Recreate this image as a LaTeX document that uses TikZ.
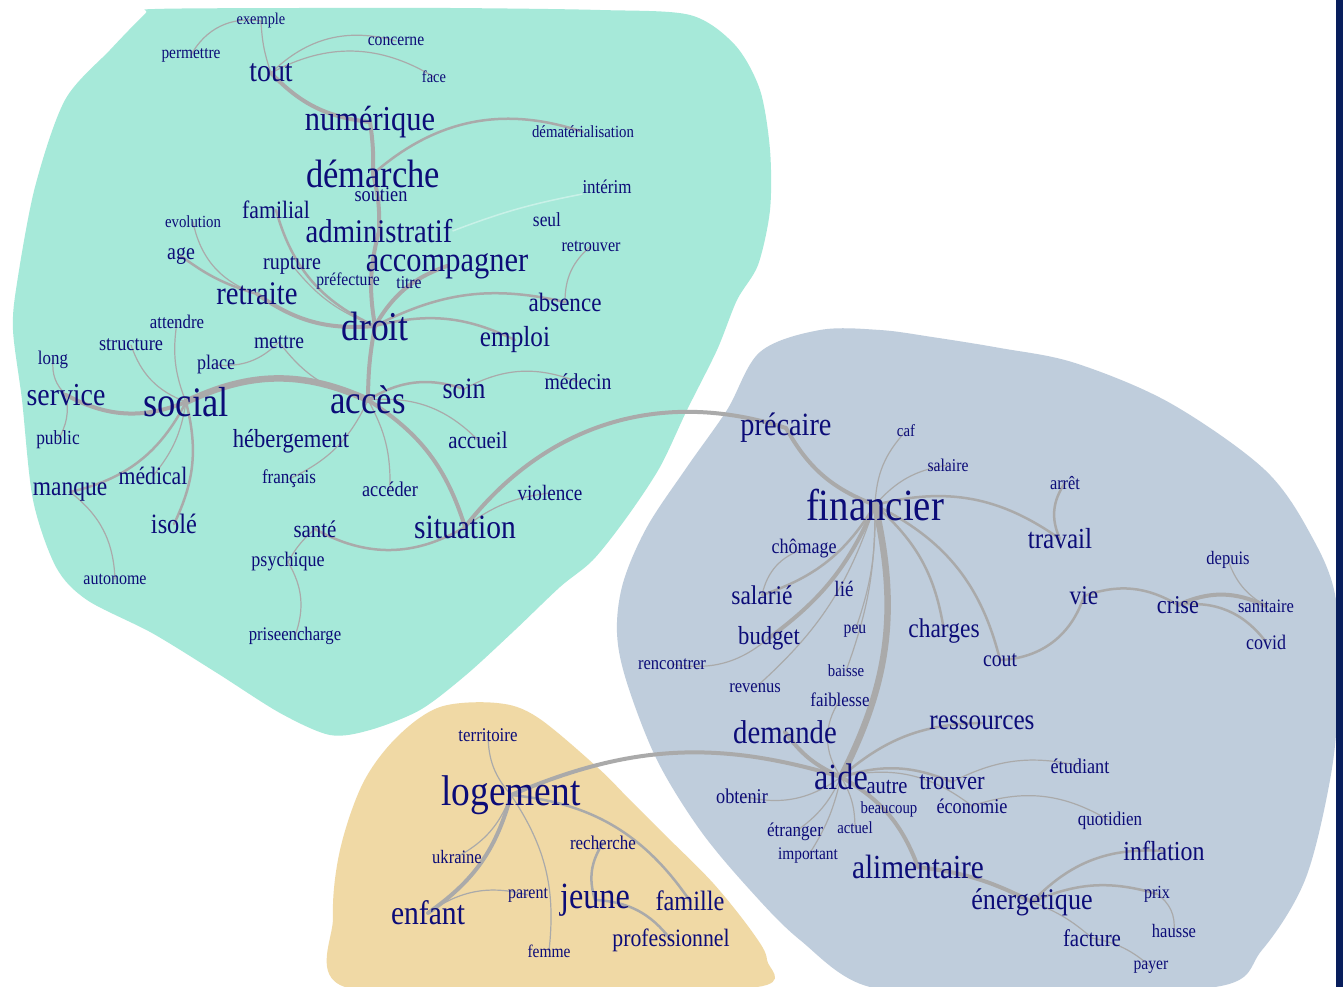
\documentclass[tikz,border=0pt]{standalone}
\usepackage{fontspec}
\setmainfont{Liberation Serif}[FakeStretch=0.87]
\pgfdeclarelayer{blobs}
\pgfdeclarelayer{edges}
\pgfsetlayers{blobs,edges,main}
\definecolor{txt}{RGB}{12,12,120}
\definecolor{edgec}{RGB}{170,170,170}
\definecolor{tealc}{RGB}{166,233,217}
\definecolor{bluec}{RGB}{191,205,220}
\definecolor{orangec}{RGB}{240,217,165}
\definecolor{barc}{RGB}{8,30,92}
\tikzset{
  wd/.style={font=\fontsize{#1}{#1}\selectfont, text=txt, inner sep=0pt},
  ea/.style={draw=edgec, line width=1.2pt, line cap=round},
  eb/.style={draw=edgec, line width=2.5pt, line cap=round},
  ec/.style={draw=edgec, line width=4pt, line cap=round},
  ed/.style={draw=edgec, line width=6.5pt, line cap=round},
}
\begin{document}
\begin{tikzpicture}[x=1pt,y=1pt]
\useasboundingbox (0,0) rectangle (1343,-987);
\begin{pgfonlayer}{blobs}
\fill[white] (0,0) rectangle (1343,-987);
\fill[tealc] plot[smooth cycle, tension=0.5] coordinates {
(155,-9) (300,-8) (450,-8) (600,-10) (690,-15) (735,-45) (760,-90) (770,-150) (770,-210) (758,-265) (737,-300) (717,-350) (687,-410) (660,-467) (627,-517) (593,-560) (560,-587) (515,-630) (466,-675) (420,-710) (370,-730) (330,-735) (280,-713) (217,-673) (152,-633) (87,-600) (56,-567) (33,-500) (22,-400) (13,-330) (17,-283) (35,-187) (65,-100) (110,-50) (145,-14)};
\fill[bluec] plot[smooth cycle, tension=0.55] coordinates {
(820,-330) (880,-330) (932,-337) (1000,-348) (1075,-363) (1170,-403) (1265,-470) (1312,-537) (1336,-600) (1338,-700) (1330,-780) (1305,-880) (1262,-950) (1215,-987) (1000,-990) (870,-987) (800,-940) (750,-890) (700,-830) (657,-760) (627,-683) (617,-633) (623,-583) (647,-527) (687,-467) (727,-410) (760,-352)};
\fill[orangec] plot[smooth cycle, tension=0.55] coordinates {
(440,-707) (497,-703) (537,-717) (597,-767) (630,-800) (663,-833) (713,-883) (753,-933) (767,-960) (757,-987) (550,-990) (345,-987) (333,-917) (340,-850) (363,-783) (397,-737)};
\fill[barc] (1336,0) rectangle (1343,-987);
\end{pgfonlayer}

% ---------- teal cluster ----------
\node[wd=16.5] (exemple) at (261,-21) {exemple};
\node[wd=17.7] (permettre) at (191,-55) {permettre};
\node[wd=32] (tout) at (271,-73) {tout};
\node[wd=18] (concerne) at (396,-41) {concerne};
\node[wd=16.6] (face) at (434,-77) {face};
\node[wd=35] (numerique) at (370,-122) {numérique};
\node[wd=17] (demat) at (583,-132) {dématérialisation};
\node[wd=39.6] (demarche) at (373,-174) {démarche};
\node[wd=21] (soutien) at (381,-195) {soutien};
\node[wd=19.5] (interim) at (607,-187) {intérim};
\node[wd=25] (familial) at (276,-210) {familial};
\node[wd=17] (evolution) at (193,-222) {evolution};
\node[wd=20] (seul) at (547,-220) {seul};
\node[wd=33] (administratif) at (379,-231) {administratif};
\node[wd=18.5] (retrouver) at (591,-246) {retrouver};
\node[wd=23] (age) at (181,-256) {age};
\node[wd=23] (rupture) at (292,-265) {rupture};
\node[wd=35] (accompagner) at (447,-266) {accompagner};
\node[wd=18] (prefecture) at (348,-281) {préfecture};
\node[wd=18] (titre) at (409,-283) {titre};
\node[wd=33] (retraite) at (257,-294) {retraite};
\node[wd=26.5] (absence) at (565,-302) {absence};
\node[wd=41] (droit) at (375,-326) {droit};
\node[wd=19.3] (attendre) at (177,-322) {attendre};
\node[wd=29] (emploi) at (515,-340) {emploi};
\node[wd=21] (structure) at (131,-345) {structure};
\node[wd=22.5] (mettre) at (279,-342) {mettre};
\node[wd=19.4] (long) at (53,-360) {long};
\node[wd=20.7] (place) at (216,-365) {place};
\node[wd=32] (service) at (66,-395) {service};
\node[wd=42] (social) at (186,-402) {social};
\node[wd=40] (acces) at (368,-400) {accès};
\node[wd=29.6] (soin) at (464,-389) {soin};
\node[wd=22.7] (medecin) at (578,-382) {médecin};
\node[wd=20] (public) at (58,-440) {public};
\node[wd=26] (hebergement) at (291,-441) {hébergement};
\node[wd=24] (accueil) at (478,-440) {accueil};
\node[wd=25] (medical) at (153,-476) {médical};
\node[wd=27] (manque) at (70,-492) {manque};
\node[wd=19.6] (francais) at (289,-479) {français};
\node[wd=21] (acceder) at (390,-489) {accéder};
\node[wd=22] (violence) at (550,-493) {violence};
\node[wd=28] (isole) at (174,-524) {isolé};
\node[wd=24] (sante) at (315,-529) {santé};
\node[wd=34] (situation) at (465,-527) {situation};
\node[wd=18.4] (autonome) at (115,-579) {autonome};
\node[wd=20.7] (psychique) at (288,-562) {psychique};
\node[wd=19.2] (priseencharge) at (295,-636) {priseencharge};

% ---------- blue cluster ----------
\node[wd=32.5] (precaire) at (786,-428) {précaire};
\node[wd=17] (caf) at (906,-431) {caf};
\node[wd=18] (salaire) at (948,-465) {salaire};
\node[wd=44.6] (financier) at (875,-505) {financier};
\node[wd=18.8] (arret) at (1065,-483) {arrêt};
\node[wd=29] (travail) at (1060,-539) {travail};
\node[wd=20.7] (chomage) at (804,-549) {chômage};
\node[wd=19] (depuis) at (1228,-560) {depuis};
\node[wd=27] (salarie) at (762,-595) {salarié};
\node[wd=22] (lie) at (844,-589) {lié};
\node[wd=27] (vie) at (1084,-596) {vie};
\node[wd=25.6] (crise) at (1178,-605) {crise};
\node[wd=19] (sanitaire) at (1266,-606) {sanitaire};
\node[wd=26] (budget) at (769,-638) {budget};
\node[wd=18] (peu) at (855,-631) {peu};
\node[wd=27] (charges) at (944,-631) {charges};
\node[wd=20.7] (covid) at (1266,-642) {covid};
\node[wd=19] (rencontrer) at (672,-664) {rencontrer};
\node[wd=22.7] (cout) at (1000,-660) {cout};
\node[wd=17] (baisse) at (846,-671) {baisse};
\node[wd=19] (revenus) at (755,-688) {revenus};
\node[wd=19.4] (faiblesse) at (840,-700) {faiblesse};
\node[wd=29] (ressources) at (982,-723) {ressources};
\node[wd=33] (demande) at (785,-732) {demande};
\node[wd=21] (etudiant) at (1080,-766) {étudiant};
\node[wd=37] (aide) at (841,-777) {aide};
\node[wd=23.5] (autre) at (887,-787) {autre};
\node[wd=26] (trouver) at (952,-782) {trouver};
\node[wd=21] (obtenir) at (742,-796) {obtenir};
\node[wd=17] (beaucoup) at (889,-809) {beaucoup};
\node[wd=21] (economie) at (972,-806) {économie};
\node[wd=19.5] (quotidien) at (1110,-821) {quotidien};
\node[wd=19.6] (etranger) at (795,-832) {étranger};
\node[wd=17] (actuel) at (855,-828) {actuel};
\node[wd=27.5] (inflation) at (1164,-851) {inflation};
\node[wd=17.7] (important) at (808,-856) {important};
\node[wd=33.7] (alimentaire) at (918,-867) {alimentaire};
\node[wd=30] (energetique) at (1032,-902) {énergetique};
\node[wd=18.5] (prix) at (1157,-894) {prix};
\node[wd=19] (hausse) at (1174,-931) {hausse};
\node[wd=24] (facture) at (1092,-938) {facture};
\node[wd=18] (payer) at (1151,-967) {payer};

% ---------- orange cluster ----------
\node[wd=19.4] (territoire) at (488,-735) {territoire};
\node[wd=43] (logement) at (511,-795) {logement};
\node[wd=19] (ukraine) at (457,-857) {ukraine};
\node[wd=19.5] (recherche) at (603,-843) {recherche};
\node[wd=34] (enfant) at (428,-913) {enfant};
\node[wd=18.4] (parent) at (528,-895) {parent};
\node[wd=37] (jeune) at (595,-900) {jeune};
\node[wd=28] (famille) at (690,-901) {famille};
\node[wd=25] (professionnel) at (671,-940) {professionnel};
\node[wd=17.8] (femme) at (549,-951) {femme};

\begin{pgfonlayer}{edges}
% teal
\draw[ea] (exemple.center) to[bend right=35] (permettre.center);
\draw[ea] (exemple.center) to[bend right=8] (tout.center);
\draw[ea] (tout.center) to[bend left=30] (concerne.center);
\draw[ea] (tout.center) to[bend left=30] (face.center);
\draw[ec] (tout.center) to[bend right=20] (numerique.center);
\draw[ec] (numerique.center) to[bend left=5] (demarche.center);
\draw[eb] (demarche.center) to[bend left=30] (demat.center);
\draw[ec] (demarche.center) to[bend left=8] (administratif.center);
\draw[ec] (administratif.center) to[bend right=12] (droit.center);
\draw[ea] (soutien.center) to[bend right=10] (administratif.center);
\draw[eb] (familial.center) to[bend right=25] (droit.center);
\draw[ea] (evolution.center) to[bend right=30] (retraite.center);
\draw[eb] (age.center) to[bend right=10] (retraite.center);
\draw[ec] (retraite.center) to[bend right=20] (droit.center);
\draw[ea] (rupture.center) to[bend right=15] (droit.center);
\draw[ec] (droit.center) to[bend left=20] (accompagner.center);
\draw[eb] (droit.center) to[bend left=20] (absence.center);
\draw[ea] (absence.center) to[bend left=25] (retrouver.center);
\draw[eb] (droit.center) to[bend left=20] (emploi.center);
\draw[white, opacity=0.4, line width=1.5pt] (administratif.east) to[bend left=5] (interim.south west);
\draw[ec] (droit.center) to[bend right=5] (acces.center);
\draw[ed] (social.center) to[bend left=25] (acces.center);
\draw[ec] (social.center) to[bend left=25] (service.center);
\draw[ea] (service.center) to[bend left=25] (long.center);
\draw[ea] (service.center) to[bend left=20] (public.center);
\draw[ea] (social.center) to[bend left=25] (structure.center);
\draw[ea] (social.center) to[bend left=15] (attendre.center);
\draw[ea] (mettre.center) to[bend left=25] (place.center);
\draw[ea] (mettre.center) to[bend right=20] (acces.center);
\draw[ea] (social.center) to[bend left=15] (medical.center);
\draw[eb] (social.center) to[bend left=25] (manque.center);
\draw[eb] (social.center) to[bend left=20] (isole.center);
\draw[ea] (manque.center) to[bend left=25] (autonome.center);
\draw[eb] (acces.center) to[bend left=25] (soin.center);
\draw[ea] (soin.center) to[bend left=25] (medecin.center);
\draw[ea] (acces.center) to[bend left=25] (accueil.center);
\draw[ea] (acces.center) to[bend left=20] (francais.center);
\draw[ea] (acces.center) to[bend left=15] (acceder.center);
\draw[ec] (acces.center) to[bend left=20] (situation.center);
\draw[eb] (situation.center) to[bend left=30] (sante.center);
\draw[ea] (situation.center) to[bend left=15] (violence.center);
\draw[ec] (situation.center) to[bend left=35] (precaire.center);
\draw[ea] (sante.center) to[bend right=10] (psychique.center);
\draw[ea] (psychique.center) to[bend left=25] (priseencharge.center);
% blue
\draw[ec] (precaire.center) to[bend right=20] (financier.center);
\draw[ea] (financier.center) to[bend left=20] (caf.center);
\draw[ea] (financier.center) to[bend left=20] (salaire.center);
\draw[eb] (financier.center) to[bend left=25] (travail.center);
\draw[eb] (travail.center) to[bend left=30] (arret.center);
\draw[eb] (financier.center) to[bend left=20] (salarie.center);
\draw[ea] (chomage.center) to[bend right=30] (salarie.center);
\draw[ec] (financier.center) to[bend left=15] (budget.center);
\draw[ea] (budget.center) to[bend left=25] (rencontrer.center);
\draw[ea] (financier.center) to[bend left=15] (revenus.center);
\draw[ea] (financier.center) to[bend left=10] (peu.center);
\draw[ea] (financier.center) to[bend left=10] (baisse.center);
\draw[eb] (financier.center) to[bend left=20] (charges.center);
\draw[eb] (financier.center) to[bend left=25] (cout.center);
\draw[eb] (cout.center) to[bend right=35] (vie.center);
\draw[eb] (vie.center) to[bend left=25] (crise.center);
\draw[ec] (crise.center) to[bend left=25] (sanitaire.center);
\draw[ea] (sanitaire.center) to[bend left=20] (depuis.center);
\draw[eb] (crise.center) to[bend left=30] (covid.center);
\draw[ed] (financier.center) to[bend left=20] (aide.center);
\draw[ea] (faiblesse.center) to[bend right=35] (aide.center);
\draw[ec] (demande.center) to[bend right=15] (aide.center);
\draw[ec] (aide.center) to[bend right=20] (logement.center);
\draw[eb] (aide.center) to[bend left=20] (ressources.center);
\draw[eb] (aide.center) to[bend left=20] (trouver.center);
\draw[ea] (trouver.center) to[bend left=20] (etudiant.center);
\draw[ea] (aide.center) to[bend left=25] (economie.center);
\draw[ea] (economie.center) to[bend left=25] (quotidien.center);
\draw[ec] (aide.center) to[bend left=20] (alimentaire.center);
\draw[ec] (alimentaire.center) to[bend left=10] (energetique.center);
\draw[eb] (energetique.center) to[bend left=25] (inflation.center);
\draw[eb] (energetique.center) to[bend left=20] (prix.center);
\draw[ea] (prix.center) to[bend left=30] (hausse.center);
\draw[ea] (energetique.center) to[bend left=10] (facture.center);
\draw[ea] (facture.center) to[bend left=15] (payer.center);
\draw[ea] (aide.center) to[bend left=25] (obtenir.center);
\draw[ea] (aide.center) to[bend left=15] (etranger.center);
\draw[ea] (aide.center) to[bend left=10] (important.center);
\draw[ea] (aide.center) to[bend left=15] (actuel.center);
% orange
\draw[ea] (logement.center) to[bend left=20] (territoire.center);
\draw[ea] (logement.center) to[bend left=20] (ukraine.center);
\draw[ec] (logement.center) to[bend left=20] (enfant.center);
\draw[ea] (enfant.center) to[bend left=25] (parent.center);
\draw[ea] (logement.center) to[bend left=20] (femme.center);
\draw[eb] (logement.center) to[bend left=25] (famille.center);
\draw[eb] (jeune.center) to[bend left=25] (recherche.center);
\draw[eb] (jeune.center) to[bend left=25] (professionnel.center);
\end{pgfonlayer}
\end{tikzpicture}
\end{document}
